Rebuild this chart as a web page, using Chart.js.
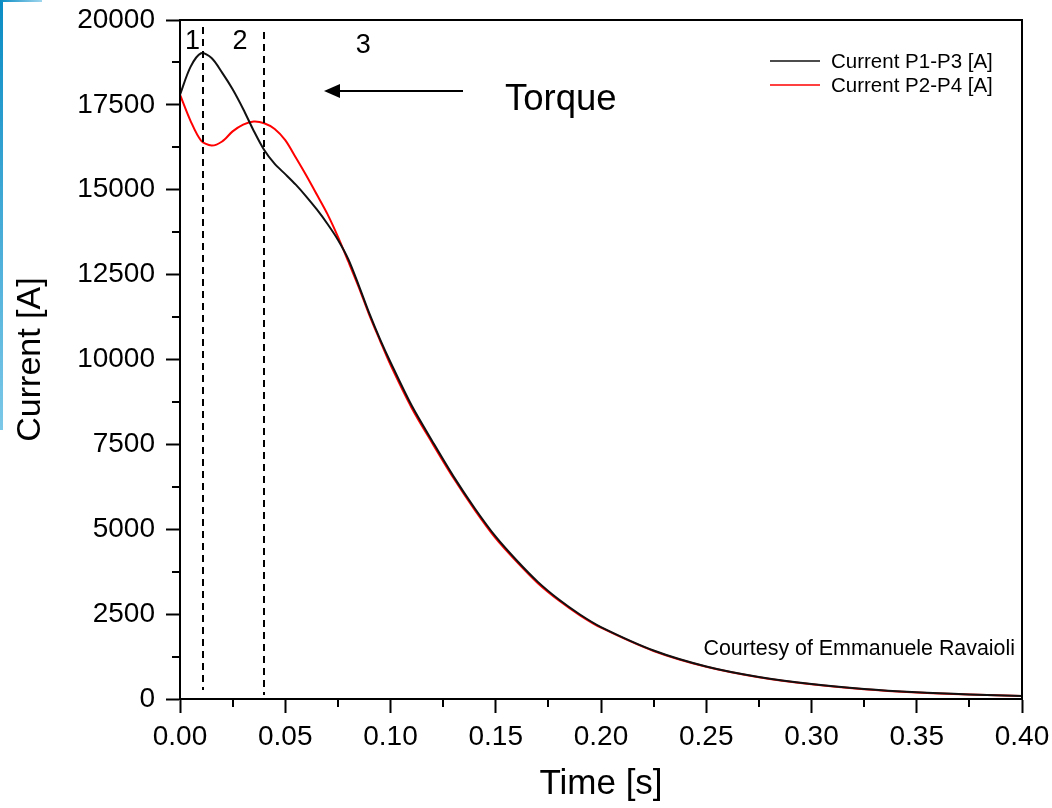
<!DOCTYPE html>
<html>
<head>
<meta charset="utf-8">
<title>Current decay</title>
<script src="https://cdn.jsdelivr.net/npm/chart.js@4.4.1/dist/chart.umd.min.js"></script>
<style>
    html, body { margin: 0; padding: 0; background: #fff; }
    #wrap { position: relative; width: 1052px; height: 808px; }
    .edge-v { position: absolute; left: 0; top: 0; width: 3px; height: 430px;
              background: linear-gradient(#0a8cc4, #7cc8e8); }
    .edge-h { position: absolute; left: 0; top: 0; width: 42px; height: 2px;
              background: linear-gradient(90deg, #0a8cc4, #9fd6ee); }
</style>
</head>
<body>
<div id="wrap">
    <canvas id="grafico" width="1052" height="808"></canvas>
    <div class="edge-v"></div>
    <div class="edge-h"></div>
</div>
<script>
// time [s]
var tempo = [0, 0.005, 0.01, 0.015, 0.02, 0.025, 0.03, 0.035, 0.04, 0.045, 0.05,
    0.055, 0.06, 0.065, 0.07, 0.075, 0.08, 0.085, 0.09, 0.095, 0.1,
    0.11, 0.12, 0.13, 0.14, 0.15, 0.16, 0.17, 0.18, 0.19, 0.2,
    0.225, 0.25, 0.275, 0.3, 0.325, 0.35, 0.375, 0.4];

// current P1-P3 [A]
var correnteP13 = [17800, 18620, 19020, 18880, 18450, 17960, 17380, 16740, 16170, 15760, 15460,
    15150, 14800, 14420, 14000, 13530, 12950, 12170, 11350, 10600, 9920,
    8650, 7580, 6550, 5620, 4780, 4080, 3450, 2930, 2490, 2120,
    1430, 960, 650, 440, 295, 198, 134, 88];

// current P2-P4 [A]
var correnteP24 = [17800, 17030, 16450, 16300, 16420, 16720, 16920, 17010, 16960, 16790, 16460,
    15950, 15420, 14860, 14290, 13620, 12880, 12120, 11300, 10560, 9840,
    8580, 7520, 6500, 5570, 4730, 4040, 3410, 2900, 2465, 2100,
    1415, 950, 642, 434, 290, 194, 131, 86];

var rotulos = ['Current P1-P3 [A]', 'Current P2-P4 [A]'];
var cores = ['#111111', '#ff0000'];

// phase boundaries [s] and phase names
var limitesFase = [0.011, 0.04];
var nomesFase = ['1', '2', '3'];
var tempoNomeFase = [0.0059, 0.0285, 0.087];

var fonte = '"Liberation Sans", Arial, sans-serif';

function pontos(valores) {
    return tempo.map(function (t, i) { return { x: t, y: valores[i] }; });
}

// frame, minor ticks, phase lines, arrow, legend, note
var extras = {
    id: 'extras',
    afterDraw: function (chart) {
        var ctx = chart.ctx;
        var area = chart.chartArea;
        var sx = chart.scales.x;
        var sy = chart.scales.y;

        ctx.save();
        ctx.strokeStyle = '#000';
        ctx.lineWidth = 2;
        ctx.strokeRect(area.left, area.top, area.right - area.left, area.bottom - area.top);

        // minor ticks
        ctx.beginPath();
        for (var v = 0.025; v < 0.4; v += 0.05) {
            var px = Math.round(sx.getPixelForValue(v));
            ctx.moveTo(px, area.bottom);
            ctx.lineTo(px, area.bottom + 8);
        }
        for (var w = 1250; w < 20000; w += 2500) {
            var py = Math.round(sy.getPixelForValue(w));
            ctx.moveTo(area.left - 8, py);
            ctx.lineTo(area.left, py);
        }
        ctx.stroke();

        // phase boundaries
        ctx.setLineDash([7, 5]);
        ctx.beginPath();
        limitesFase.forEach(function (t, i) {
            var px = Math.round(sx.getPixelForValue(t));
            ctx.moveTo(px, area.top + 7 + i * 5);
            ctx.lineTo(px, area.bottom - 9 + i * 5);
        });
        ctx.stroke();
        ctx.setLineDash([]);

        ctx.fillStyle = '#000';
        ctx.font = '27px ' + fonte;
        ctx.textAlign = 'center';
        ctx.textBaseline = 'alphabetic';
        nomesFase.forEach(function (n, i) {
            ctx.fillText(n, sx.getPixelForValue(tempoNomeFase[i]), area.top + 29 + (i == 2 ? 4 : 0));
        });

        // torque arrow
        var ya = area.top + 71;
        ctx.lineWidth = 2;
        ctx.beginPath();
        ctx.moveTo(463, ya);
        ctx.lineTo(336, ya);
        ctx.stroke();
        ctx.beginPath();
        ctx.moveTo(324, ya);
        ctx.lineTo(340, ya - 7);
        ctx.lineTo(340, ya + 7);
        ctx.closePath();
        ctx.fill();
        ctx.textAlign = 'left';
        ctx.font = '36.5px ' + fonte;
        ctx.fillText('Torque', 505, area.top + 90);

        // legend
        ctx.font = '20.5px ' + fonte;
        chart.data.datasets.forEach(function (ds, i) {
            var yl = area.top + 41 + i * 24;
            ctx.strokeStyle = ds.borderColor;
            ctx.lineWidth = 1.5;
            ctx.beginPath();
            ctx.moveTo(area.right - 252, yl);
            ctx.lineTo(area.right - 202, yl);
            ctx.stroke();
            ctx.fillStyle = '#000';
            ctx.textBaseline = 'middle';
            ctx.fillText(ds.label, area.right - 191, yl + 1);
        });

        // note
        ctx.textAlign = 'right';
        ctx.textBaseline = 'alphabetic';
        ctx.font = '21.4px ' + fonte;
        ctx.fillText('Courtesy of Emmanuele Ravaioli', area.right - 7, area.bottom - 44);
        ctx.restore();
    }
};

var grafico = new Chart(document.getElementById('grafico').getContext('2d'), {
    type: 'line',
    data: {
        datasets: [{
            label: rotulos[0],
            data: pontos(correnteP13),
            borderColor: cores[0],
            borderWidth: 2,
            pointRadius: 0,
            tension: 0.3
        }, {
            label: rotulos[1],
            data: pontos(correnteP24),
            borderColor: cores[1],
            borderWidth: 2,
            pointRadius: 0,
            tension: 0.3
        }]
    },
    options: {
        responsive: false,
        animation: false,
        devicePixelRatio: 1,
        layout: {
            padding: { left: 0, right: 30, top: 20, bottom: 0 }
        },
        plugins: {
            legend: { display: false },
            tooltip: { enabled: false }
        },
        scales: {
            x: {
                type: 'linear',
                min: 0,
                max: 0.4,
                afterFit: function (scale) {
                    scale.height = 109;
                    scale.paddingLeft = 0;
                    scale.paddingRight = 0;
                },
                ticks: {
                    stepSize: 0.05,
                    color: '#000',
                    padding: 7,
                    maxRotation: 0,
                    font: { family: fonte, size: 28 },
                    callback: function (v) { return v.toFixed(2); }
                },
                grid: {
                    drawOnChartArea: false,
                    tickLength: 14,
                    tickWidth: 2,
                    tickColor: '#000'
                },
                border: { color: '#000', width: 2 },
                title: {
                    display: true,
                    text: 'Time [s]',
                    color: '#000',
                    padding: { top: 0, bottom: 3 },
                    font: { family: fonte, size: 35 }
                }
            },
            y: {
                min: 0,
                max: 20000,
                afterFit: function (scale) {
                    scale.width = 180;
                    scale.paddingTop = 0;
                    scale.paddingBottom = 0;
                },
                ticks: {
                    stepSize: 2500,
                    color: '#000',
                    padding: 11,
                    font: { family: fonte, size: 28 },
                    callback: function (v) { return String(v); }
                },
                grid: {
                    drawOnChartArea: false,
                    tickLength: 14,
                    tickWidth: 2,
                    tickColor: '#000'
                },
                border: { color: '#000', width: 2 },
                title: {
                    display: true,
                    text: 'Current [A]',
                    color: '#000',
                    padding: { top: 10, bottom: 0 },
                    font: { family: fonte, size: 34 }
                }
            }
        }
    },
    plugins: [extras]
});
</script>
</body>
</html>
